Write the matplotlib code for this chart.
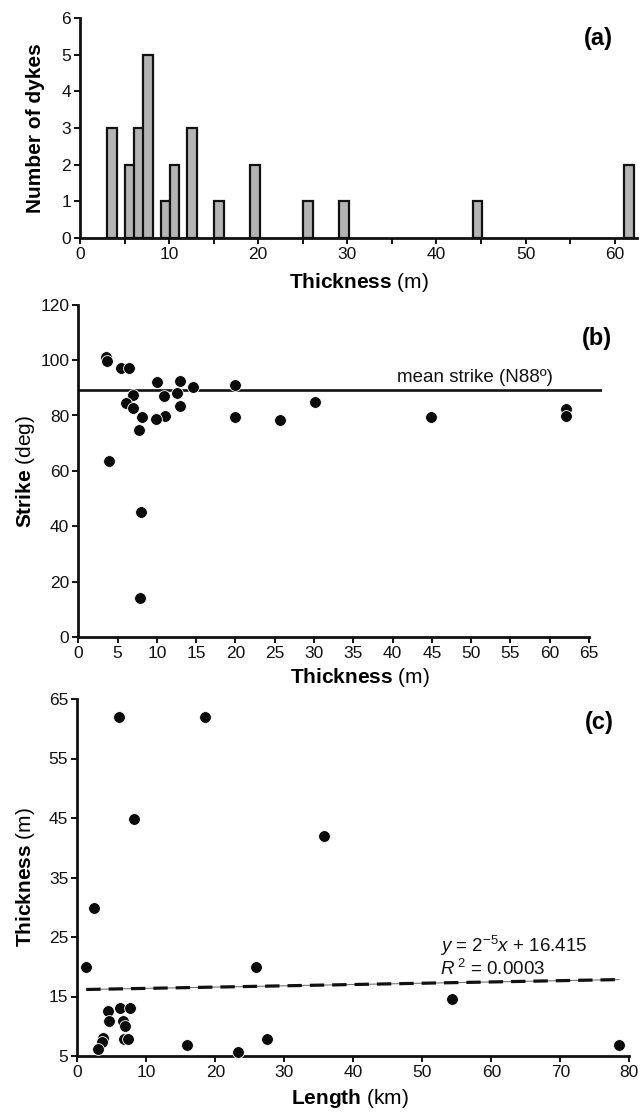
import numpy as np
import matplotlib
matplotlib.use('Agg')
from matplotlib import pyplot as plt

plt.rcParams['font.family'] = ['Liberation Sans', 'DejaVu Sans']
plt.rcParams['mathtext.fontset'] = 'custom'
plt.rcParams['mathtext.rm'] = 'Liberation Sans'
plt.rcParams['mathtext.bf'] = 'Liberation Sans:bold'
plt.rcParams['mathtext.it'] = 'Liberation Sans:italic'

tick_size = 12.5
label_size = 15
text_size = 13.5
panel_size = 17

# (a) histogram of dyke thickness
hist_thickness = [4, 6, 7, 8, 10, 11, 13, 16, 20, 26, 30, 45, 62]
hist_count = [3, 2, 3, 5, 1, 2, 3, 1, 2, 1, 1, 1, 2]

# (b) strike vs thickness
strike_thickness = [3.5, 3.6, 5.4, 6.4, 10.0, 13.0, 14.6, 6.9, 10.9, 12.5, 6.1, 7.0,
                    12.9, 8.1, 11.0, 9.9, 7.7, 3.9, 8.0, 7.9, 20.0, 20.0, 25.7, 30.1,
                    44.9, 62.1, 62.1]
strike_deg = [101.2, 99.7, 97.0, 97.0, 92.1, 92.3, 90.2, 87.3, 87.1, 88.1, 84.6, 82.8,
              83.5, 79.3, 79.9, 78.6, 74.8, 63.7, 45.3, 14.1, 91.0, 79.6, 78.3, 84.9,
              79.6, 82.4, 79.8]
mean_strike = 89.2

# (c) thickness vs length
dyke_length = [6.0, 18.5, 8.2, 35.8, 2.4, 1.3, 25.9, 54.3, 4.5, 4.6, 6.2, 7.6, 6.6,
               6.9, 6.7, 7.3, 3.7, 3.6, 3.0, 15.9, 23.3, 27.5, 78.5]
dyke_thick = [62.0, 62.0, 44.8, 42.0, 29.9, 20.0, 20.0, 14.6, 12.5, 10.9, 13.0, 13.0,
              10.9, 10.1, 7.9, 7.8, 8.0, 7.3, 6.1, 6.9, 5.7, 7.9, 6.8]
fit_slope = 0.0216
fit_intercept = 16.15


def style_axes(ax):
    for s in ['top', 'right']:
        ax.spines[s].set_visible(False)
    for s in ['left', 'bottom']:
        ax.spines[s].set_linewidth(2.0)
        ax.spines[s].set_color('#111111')
    ax.tick_params(direction='out', length=4.5, width=1.4, pad=2,
                   labelsize=tick_size, colors='#111111')


fig = plt.figure(figsize=(6.41, 11.12), dpi=100)

# ---- panel (a)
ax1 = fig.add_axes([80 / 641, 1 - 237.7 / 1112, 557 / 641, 219.4 / 1112])
ax1.bar(np.array(hist_thickness) - 0.4, hist_count, width=1.1, color='#b4b4b4',
        edgecolor='#111111', linewidth=1.6, zorder=3, clip_on=False)
style_axes(ax1)
ax1.set_xlim(0, 62.5)
ax1.set_ylim(0, 6)
xt = np.arange(0, 61, 5)
ax1.set_xticks(xt)
ax1.set_xticklabels([str(v) if v % 10 == 0 else '' for v in xt])
ax1.set_yticks(range(0, 7))
ax1.set_xlabel(r'$\mathbf{Thickness}$ (m)', fontsize=label_size)
ax1.xaxis.set_label_coords(0.5, -0.206)
ax1.xaxis.label.set_va('center')
ax1.set_ylabel('Number of dykes', fontsize=label_size, fontweight='bold')
ax1.yaxis.set_label_coords(-0.079, 0.5)
ax1.yaxis.label.set_va('center')
fig.text(598 / 641, 1 - 39 / 1112, '(a)', fontsize=panel_size, fontweight='bold',
         ha='center', va='center')

# ---- panel (b)
ax2 = fig.add_axes([78.3 / 641, 1 - 637.3 / 1112, 524.1 / 641, 332.7 / 1112])
ax2.axhline(mean_strike, color='#111111', lw=1.9, zorder=2)
ax2.scatter(strike_thickness, strike_deg, s=72, color='#0a0a0a', edgecolor='white',
            linewidth=0.6, zorder=3, clip_on=False)
style_axes(ax2)
ax2.set_xlim(0, 66.7)
ax2.set_ylim(0, 120)
ax2.spines['bottom'].set_bounds(0, 65)
ax2.set_xticks(range(0, 66, 5))
ax2.set_yticks(range(0, 121, 20))
ax2.text(40.6, 92.2, 'mean strike (N88º)', fontsize=text_size, ha='left',
         va='baseline', color='#111111')
ax2.set_xlabel(r'$\mathbf{Thickness}$ (m)', fontsize=label_size)
ax2.xaxis.set_label_coords(0.5375, -0.122)
ax2.xaxis.label.set_va('center')
ax2.set_ylabel(r'$\mathbf{Strike}$ (deg)', fontsize=label_size)
ax2.yaxis.set_label_coords(-0.1, 0.5)
ax2.yaxis.label.set_va('center')
fig.text(597 / 641, 1 - 339 / 1112, '(b)', fontsize=panel_size, fontweight='bold',
         ha='center', va='center')

# ---- panel (c)
ax3 = fig.add_axes([77.3 / 641, 1 - 1056 / 1112, 552 / 641, 357 / 1112])
fx = np.array([min(dyke_length), max(dyke_length)])
fy = fit_slope * fx + fit_intercept
ax3.plot(fx, fy, color='#777777', lw=0.8, zorder=2)
ax3.plot(fx, fy, color='#111111', lw=2.3, dashes=(4.5, 2.5), zorder=2)
ax3.scatter(dyke_length, dyke_thick, s=72, color='#0a0a0a', edgecolor='white',
            linewidth=0.6, zorder=3, clip_on=False)
style_axes(ax3)
ax3.set_xlim(0, 80)
ax3.set_ylim(5, 65)
ax3.set_xticks(range(0, 81, 10))
ax3.set_yticks(range(5, 66, 10))
ax3.text(52.5, 22.5, r'$y$ = 2$^{\mathrm{-5}}$$x$ + 16.415', fontsize=text_size,
         ha='left', va='baseline', color='#111111')
ax3.text(52.5, 18.6, r'$R$$^{\mathrm{\ 2}}$ = 0.0003', fontsize=text_size,
         ha='left', va='baseline', color='#111111')
ax3.set_xlabel(r'$\mathbf{Length}$ (km)', fontsize=label_size)
ax3.xaxis.set_label_coords(0.494, -0.118)
ax3.xaxis.label.set_va('center')
ax3.set_ylabel(r'$\mathbf{Thickness}$ (m)', fontsize=label_size)
ax3.yaxis.set_label_coords(-0.093, 0.5)
ax3.yaxis.label.set_va('center')
fig.text(599 / 641, 1 - 723 / 1112, '(c)', fontsize=panel_size, fontweight='bold',
         ha='center', va='center')

plt.savefig('out.png', dpi=100)
